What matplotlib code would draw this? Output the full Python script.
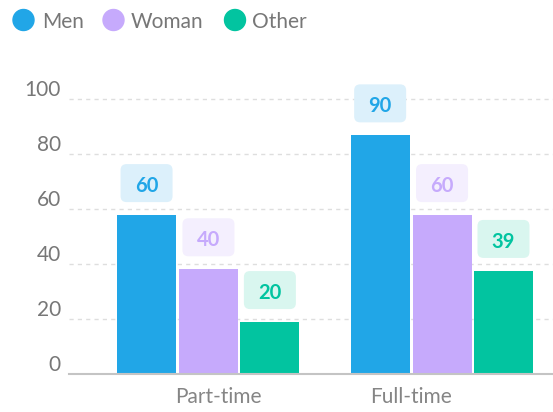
import matplotlib
matplotlib.use('Agg')
import matplotlib.pyplot as plt
from matplotlib.patches import FancyBboxPatch, Circle
from matplotlib.transforms import ScaledTranslation

# --- data ---
categories = ['Part-time', 'Full-time']
series = ['Men', 'Woman', 'Other']
men_heights = [58, 87]        # bar heights as drawn
woman_heights = [38.3, 58]
other_heights = [19.1, 37.7]
men_labels = [60, 90]         # values printed above the bars
woman_labels = [40, 60]
other_labels = [20, 39]
y_ticks = [0, 20, 40, 60, 80, 100]

colors = ['#21a6e7', '#c6aafc', '#02c4a0']
box_colors = ['#dcf0fb', '#f4effe', '#d9f6ef']
grey = '#777777'

plt.rcParams['font.family'] = ['Lato', 'DejaVu Sans']

W, H = 553, 412
fig = plt.figure(figsize=(W / 100, H / 100), dpi=100)

# layout in pixels
base_px = 374.3      # y of zero line, from top
ppu_y = 2.75         # pixels per y unit
ymax = 102
left_px = 69
xmin, xmax = -0.597, 1.475
ax = fig.add_axes([left_px / W, (H - base_px) / H, (W - left_px) / W, ppu_y * ymax / H])
ax.set_xlim(xmin, xmax)
ax.set_ylim(0, ymax)
ppu_x = (W - left_px) / (xmax - xmin)

heights = [men_heights, woman_heights, other_heights]
labels = [men_labels, woman_labels, other_labels]
offsets = [-0.265, 0, 0.263]
bw = 59 / ppu_x

for i in range(len(series)):
    xs = [c + offsets[i] for c in range(len(categories))]
    ax.bar(xs, heights[i], width=bw, color=colors[i], zorder=3)
    for x, h, lab in zip(xs, heights[i], labels[i]):
        yc = h + 31.7 / ppu_y
        bwid = 52 / ppu_x
        bhei = 38 / ppu_y
        box = FancyBboxPatch((x - bwid / 2, yc - bhei / 2), bwid, bhei,
                             boxstyle='round,pad=0,rounding_size=%f' % (6 / ppu_x),
                             mutation_aspect=ppu_x / ppu_y,
                             facecolor=box_colors[i], edgecolor='none',
                             clip_on=False, zorder=4)
        ax.add_patch(box)
        ax.text(x, yc - 9 / ppu_y, str(lab), ha='center', va='baseline',
                fontsize=14.5, fontweight='bold', color=colors[i], zorder=5, clip_on=False)

# grid and axes
ax.set_yticks(y_ticks)
ax.yaxis.grid(True, color='#dedede', linestyle=(0, (3, 3)), linewidth=1, zorder=0)
ax.tick_params(axis='y', length=0, pad=5.8, labelsize=15, labelcolor=grey)
for lab in ax.get_yticklabels():
    lab.set_verticalalignment('baseline')
    lab.set_transform(lab.get_transform() + ScaledTranslation(0, 3.3 / 100, fig.dpi_scale_trans))

ax.set_xticks([0.041, 0.867])
ax.set_xticklabels(categories)
ax.tick_params(axis='x', length=0, pad=8.9, labelsize=15, labelcolor='#858585')

for s in ['top', 'right', 'left']:
    ax.spines[s].set_visible(False)
ax.spines['bottom'].set_color('#c4c4c4')
ax.spines['bottom'].set_linewidth(1.5)
ax.spines['bottom'].set_zorder(4)

# legend drawn by hand
circle_x = [23.5, 113.5, 235]
text_x = [42, 131, 252]
for i, name in enumerate(series):
    fig.add_artist(Circle((circle_x[i] / 100, (H - 20) / 100), 10.5 / 100,
                          transform=fig.dpi_scale_trans, color=colors[i]))
    fig.text(text_x[i] / 100, (H - 28.3) / 100, name, transform=fig.dpi_scale_trans,
             fontsize=15, color=grey, va='baseline', ha='left')

fig.savefig('out.png', dpi=100)
